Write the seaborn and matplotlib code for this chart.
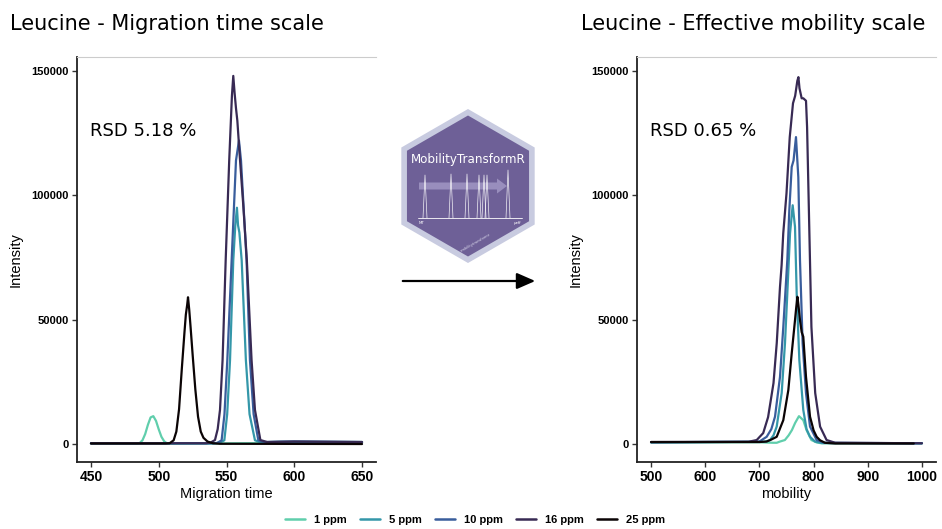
import numpy as np
import pandas as pd
import seaborn as sns
import matplotlib
matplotlib.use("Agg")
import matplotlib.pyplot as plt
from matplotlib.patches import Polygon, FancyArrowPatch, FancyArrow
from matplotlib.lines import Line2D

# ---------------- data ----------------
concentrations = ["1 ppm", "5 ppm", "10 ppm", "16 ppm", "25 ppm"]

# Migration time scale
mt_1ppm_x = [450, 484, 486, 488, 490, 492, 494, 496, 498, 500, 502, 504, 506, 510, 560, 650]
mt_1ppm_y = [300, 200, 400, 1500, 4000, 7700, 10700, 11200, 9300, 5900, 2900, 1100, 300, 100, 300, 600]
mt_5ppm_x = [450, 540, 545, 548.4, 550.5, 552.6, 555, 556.5, 557.7, 558.5, 559.5, 561.2, 564.3, 567, 571, 575, 590, 650]
mt_5ppm_y = [300, 300, 500, 1500, 12000, 33700, 73900, 88000, 95000, 88000, 85000, 73900, 33700, 12000, 1500, 700, 900, 800]
mt_10ppm_x = [450, 540, 543, 546.4, 548.5, 550.6, 553.8, 557, 559.2, 560.7, 564.8, 567.3, 570, 573.5, 578, 600, 650]
mt_10ppm_y = [300, 300, 400, 1500, 12000, 33700, 73900, 114000, 122000, 114000, 73900, 33700, 12000, 1500, 800, 1000, 800]
mt_16ppm_x = [450, 535, 538, 541.5, 543.5, 545.2, 547.1, 549.4, 552, 554, 555, 556, 557, 558, 560, 562.5, 565, 568.5, 571, 575, 580, 600, 650]
mt_16ppm_y = [300, 300, 500, 1600, 6000, 13700, 33700, 74000, 114000, 140000, 148000, 141000, 135000, 130000, 114000, 95000, 74000, 33700, 13700, 1600, 800, 1000, 800]
mt_25ppm_x = [450, 505, 508, 511, 513, 515, 517, 519, 520, 521, 521.6, 522.5, 523.5, 525, 527, 529, 531, 533, 536, 540, 545, 650]
mt_25ppm_y = [200, 200, 300, 1500, 5000, 14000, 30000, 45000, 52000, 56000, 59000, 54000, 47000, 36000, 22000, 11000, 5000, 2500, 1000, 300, 100, 0]

# Effective mobility scale
mob_1ppm_x = [500, 700, 725, 732, 738, 747, 754, 760, 766, 773, 781, 787, 796, 806, 815, 830, 1000]
mob_1ppm_y = [600, 700, 500, 500, 1000, 1600, 3500, 5600, 8500, 11200, 9600, 5600, 1600, 600, 300, 300, 300]
mob_5ppm_x = [500, 690, 705, 712, 719.6, 726, 731.9, 741.1, 747.2, 751.5, 756.5, 761.4, 765.7, 768.8, 773.7, 781, 787, 793.4, 802.6, 815, 1000]
mob_5ppm_y = [700, 900, 900, 1000, 1600, 3500, 7000, 20500, 40500, 60500, 84600, 96000, 87300, 60500, 33700, 13700, 6000, 2900, 1000, 400, 300]
mob_10ppm_x = [500, 690, 700, 713.4, 722, 728.8, 738, 744.1, 751.5, 755.2, 759.6, 763, 767.5, 771.8, 774.9, 779.8, 786, 793.4, 805.7, 820, 1000]
mob_10ppm_y = [700, 900, 1000, 2900, 6000, 11000, 27000, 47100, 73900, 94000, 111400, 114000, 123400, 107300, 73900, 40400, 20500, 7000, 1600, 500, 300]
mob_16ppm_x = [500, 680, 695, 707, 716, 726, 732, 738, 741, 744, 750, 756, 762, 766, 770, 772, 774, 778, 781, 786, 788, 792, 796, 803, 812, 824, 840, 1000]
mob_16ppm_y = [800, 900, 1600, 4400, 10800, 24500, 40600, 63200, 72000, 84700, 100800, 123400, 137000, 140000, 146000, 147500, 143000, 139000, 139000, 138000, 127400, 87300, 47100, 20500, 7000, 1600, 500, 300]
mob_25ppm_x = [500, 700, 713.4, 722, 731.9, 744.1, 753.4, 759.6, 765.7, 768, 770.1, 772, 774.9, 778, 781, 786, 793.4, 800, 805.7, 812, 821, 840, 985]
mob_25ppm_y = [800, 800, 1000, 1800, 2900, 9600, 21700, 36400, 49800, 55000, 59200, 56000, 49800, 45000, 43100, 27000, 11000, 5500, 2900, 1500, 500, 200, 200]

rsd_left = "RSD 5.18 %"
rsd_right = "RSD 0.65 %"
title_left = "Leucine - Migration time scale"
title_right = "Leucine - Effective mobility scale"
x_ticks_left = [450, 500, 550, 600, 650]
x_ticks_right = [500, 600, 700, 800, 900, 1000]
y_ticks = [0, 50000, 100000, 150000]

# ---------------- build tables ----------------
def build(series):
    rows = []
    for conc, (xs, ys) in zip(concentrations, series):
        for xv, yv in zip(xs, ys):
            rows.append({"x": xv, "Intensity": yv, "conc": conc})
    return pd.DataFrame(rows)

df_mt = build([(mt_1ppm_x, mt_1ppm_y), (mt_5ppm_x, mt_5ppm_y), (mt_10ppm_x, mt_10ppm_y),
               (mt_16ppm_x, mt_16ppm_y), (mt_25ppm_x, mt_25ppm_y)])
df_mob = build([(mob_1ppm_x, mob_1ppm_y), (mob_5ppm_x, mob_5ppm_y), (mob_10ppm_x, mob_10ppm_y),
                (mob_16ppm_x, mob_16ppm_y), (mob_25ppm_x, mob_25ppm_y)])

sns.set_theme(style="white")
plt.rcParams["font.family"] = ["DejaVu Sans"]
plt.rcParams["text.color"] = "black"
plt.rcParams["axes.labelcolor"] = "black"
plt.rcParams["xtick.color"] = "black"
plt.rcParams["ytick.color"] = "black"

cmap = sns.color_palette("mako", as_cmap=True)
palette = {c: cmap(v) for c, v in zip(concentrations, [0.8, 0.6, 0.4, 0.2, 0.0])}

W, H = 942, 529
fig = plt.figure(figsize=(W / 100, H / 100), dpi=100)

def px_axes(x0, y0, x1, y1):
    return fig.add_axes([x0 / W, 1 - y1 / H, (x1 - x0) / W, (y1 - y0) / H])

ax1 = px_axes(77, 57, 376, 462)
ax2 = px_axes(637, 57, 936, 462)

sns.lineplot(data=df_mt, x="x", y="Intensity", hue="conc", hue_order=concentrations,
             palette=palette, estimator=None, sort=False, linewidth=1.6, legend=False, ax=ax1)
sns.lineplot(data=df_mob, x="x", y="Intensity", hue="conc", hue_order=concentrations,
             palette=palette, estimator=None, sort=False, linewidth=1.6, legend=False, ax=ax2)

tick_font = dict(family="Liberation Sans", weight="bold")
for ax, xt, xl, xlabel, rsd in [(ax1, x_ticks_left, (439.7, 660.3), "Migration time", rsd_left),
                                (ax2, x_ticks_right, (474, 1026), "mobility", rsd_right)]:
    ax.set_xlim(*xl)
    ax.set_ylim(-7230, 155600)
    ax.set_xticks(xt)
    ax.set_yticks(y_ticks)
    ax.set_xticklabels([str(t) for t in xt], fontsize=10, color="black", **tick_font)
    ax.set_yticklabels([str(t) for t in y_ticks], fontsize=8, color="black", **tick_font)
    ax.tick_params(axis="both", which="major", length=3.5, width=1.0, color="#333333",
                   bottom=True, left=True, pad=2.5)
    ax.set_xlabel(xlabel, fontsize=10.5, family="Liberation Sans", labelpad=2, color="black")
    ax.set_ylabel("Intensity", fontsize=10.5, family="Liberation Sans", labelpad=6, color="black")
    for s in ["left", "bottom"]:
        ax.spines[s].set_color("#222222")
        ax.spines[s].set_linewidth(1.3)
    ax.spines["top"].set_color("#cccccc")
    ax.spines["top"].set_linewidth(0.8)
    ax.spines["right"].set_visible(False)
    ax.text(0.0435, 0.805, rsd, transform=ax.transAxes, fontsize=13, va="baseline",
            family="DejaVu Sans", color="black")
    ax.grid(False)

fig.text(10 / W, 1 - 30 / H, title_left, fontsize=15, va="baseline", family="DejaVu Sans", color="black")
fig.text(581 / W, 1 - 30 / H, title_right, fontsize=15, va="baseline", family="DejaVu Sans", color="black")

# arrow between panels
arr = FancyArrowPatch((400 / W, 1 - 281 / H), (538 / W, 1 - 281 / H), transform=fig.transFigure,
                      arrowstyle="-|>,head_length=0.8,head_width=0.35", mutation_scale=14,
                      lw=1.6, color="black")
fig.add_artist(arr)

# ---------------- hexagon logo (decoration) ----------------
lx0, ly0, lx1, ly1 = 390, 100, 550, 270
lax = px_axes(lx0, ly0, lx1, ly1)
lax.set_xlim(lx0, lx1)
lax.set_ylim(ly1, ly0)
lax.axis("off")
cx, cy = 468, 186
def hexagon(R):
    ang = np.deg2rad([90, 150, 210, 270, 330, 30])
    return np.column_stack([cx + R * np.cos(ang), cy - R * np.sin(ang)])
lax.add_patch(Polygon(hexagon(77), closed=True, facecolor="#c8cbe0", edgecolor="none"))
lax.add_patch(Polygon(hexagon(70.5), closed=True, facecolor="#6e6097", edgecolor="none"))
lax.text(cx, 160, "MobilityTransformR", color="white", fontsize=8.6, ha="center", va="center",
         family="DejaVu Sans")
lax.add_patch(FancyArrow(419, 186, 88, 0, width=7, head_width=15, head_length=10,
                         length_includes_head=True, color="#a197c4", alpha=0.85, lw=0))
lax.plot([418, 522], [218, 218], color="white", lw=0.6)
for sx, top in zip([425, 451, 467, 479, 484, 487, 508], [175, 174, 174, 175, 175, 175, 170]):
    lax.plot([sx - 2, sx, sx + 2], [218, top, 218], color="white", lw=0.5, alpha=0.9)
lax.text(419, 223, "MT", color="white", fontsize=2.8, ha="left", va="center")
lax.text(514, 223, "μeff", color="white", fontsize=2.8, ha="left", va="center")
lax.text(475, 243, "mobilitytransformr", color="#d8d6ea", fontsize=2.6, rotation=30,
         ha="center", va="center")

# ---------------- legend ----------------
handles = [Line2D([0], [0], color=palette[c], lw=1.8) for c in concentrations]
leg = fig.legend(handles, concentrations, loc="center", bbox_to_anchor=(475 / W, 1 - 520 / H),
                 ncol=5, frameon=False, handlelength=1.8, columnspacing=1.2, handletextpad=0.8,
                 prop=dict(family="Liberation Sans", weight="bold", size=8))
for t in leg.get_texts():
    t.set_color("black")

fig.savefig("out.png", dpi=100)
